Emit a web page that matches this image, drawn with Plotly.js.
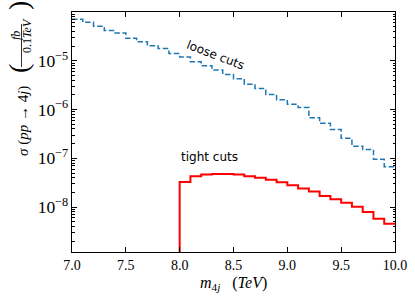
<!DOCTYPE html>
<html>
<head>
<meta charset="utf-8">
<script src="https://cdn.plot.ly/plotly-3.0.1.min.js"></script>
<style>html,body{margin:0;padding:0;background:#fff;}#chart{width:415px;height:297px;}</style>
</head>
<body>
<div id="chart"></div>
<script>
// Bin edges (TeV), 0.1 TeV bins
const looseEdges = [7.0,7.1,7.2,7.3,7.4,7.5,7.6,7.7,7.8,7.9,8.0,8.1,8.2,8.3,8.4,8.5,8.6,8.7,8.8,8.9,9.0,9.1,9.2,9.3,9.4,9.5,9.6,9.7,9.8,9.9,10.0];
// loose cuts cross-section per bin (fb / 0.1 TeV)
const looseValues = [7.08e-5,6.17e-5,5.13e-5,4.17e-5,3.72e-5,2.88e-5,2.45e-5,2.04e-5,1.78e-5,1.41e-5,
  1.20e-5,9.55e-6,7.94e-6,6.46e-6,5.25e-6,4.27e-6,3.31e-6,2.69e-6,2.04e-6,1.58e-6,
  1.29e-6,1.10e-6,6.76e-7,5.25e-7,3.89e-7,2.57e-7,1.78e-7,1.51e-7,9.55e-8,6.76e-8];
const tightEdges = [8.0,8.1,8.2,8.3,8.4,8.5,8.6,8.7,8.8,8.9,9.0,9.1,9.2,9.3,9.4,9.5,9.6,9.7,9.8,9.9,10.0];
// tight cuts cross-section per bin (fb / 0.1 TeV); zero below 8 TeV
const tightValues = [3.27e-8,4.27e-8,4.68e-8,4.79e-8,4.79e-8,4.68e-8,4.27e-8,3.98e-8,3.63e-8,3.24e-8,
  2.82e-8,2.40e-8,2.09e-8,1.70e-8,1.45e-8,1.23e-8,1.02e-8,7.94e-9,5.75e-9,4.57e-9];
const tightBaseline = 1e-12; // histogram zero level (off the log scale)
const xTickVals = [7.0,7.5,8.0,8.5,9.0,9.5,10.0];
const xTickText = ["7.0","7.5","8.0","8.5","9.0","9.5","10.0"];

function stepTrace(edges, values, baseline){
  const x = edges.slice();
  const y = values.concat([values[values.length-1]]);
  if (baseline !== undefined){ x.unshift(edges[0]); y.unshift(baseline); }
  return {x:x, y:y};
}
const loose = stepTrace(looseEdges, looseValues);
const tight = stepTrace(tightEdges, tightValues, tightBaseline);

const serif = "Liberation Serif";
const traces = [
  {x:loose.x, y:loose.y, type:'scatter', mode:'lines', line:{shape:'hv', color:'#1f77b4', width:1.5, dash:'5.5px,2.5px'}, hoverinfo:'skip'},
  {x:tight.x, y:tight.y, type:'scatter', mode:'lines', line:{shape:'hv', color:'#ff0000', width:2}, hoverinfo:'skip'}
];
const axisCommon = {showline:true, linecolor:'#000', linewidth:1, mirror:'ticks', ticks:'inside', ticklen:5, tickwidth:1, tickcolor:'#000', showgrid:false, zeroline:false, tickfont:{family:serif, size:14, color:'#000'}};
const layout = {
  width:415, height:297,
  margin:{l:72, r:20, t:12, b:45},
  paper_bgcolor:'#fff', plot_bgcolor:'#fff',
  showlegend:false,
  xaxis:Object.assign({}, axisCommon, {range:[7,10], tickmode:'array', tickvals:xTickVals, ticktext:xTickText}),
  yaxis:Object.assign({}, axisCommon, {type:'log', range:[-8.92,-4], dtick:1, exponentformat:'power',
    minor:{ticks:'inside', ticklen:2.5, tickcolor:'#000', dtick:'D1', showgrid:false}}),
  annotations:[
    {text:'loose cuts', xref:'x', yref:'y', x:8.33, y:-4.89, showarrow:false, textangle:21, font:{family:'DejaVu Sans', size:12, color:'#000'}},
    {text:'tight cuts', xref:'x', yref:'y', x:8.28, y:-6.97, showarrow:false, font:{family:'DejaVu Sans', size:12, color:'#000'}},
    {text:'<i>m</i><sub>4<i>j</i></sub>   (<i>TeV</i>)', xref:'paper', yref:'paper', x:0.5, y:(252-283)/240, xanchor:'center', yanchor:'middle', showarrow:false, font:{family:serif, size:16, color:'#000'}},
    {text:'<i>σ</i> (<i>pp</i> → 4<i>j</i>)', xref:'paper', yref:'paper', x:(23-72)/323, y:(252-121)/240, xanchor:'center', yanchor:'middle', textangle:-90, showarrow:false, font:{family:serif, size:15, color:'#000'}},
    {text:'<i>fb</i>', xref:'paper', yref:'paper', x:(16-72)/323, y:(252-36)/240, xanchor:'center', yanchor:'middle', textangle:-90, showarrow:false, font:{family:serif, size:12, color:'#000'}},
    {text:'0.1<i>TeV</i>', xref:'paper', yref:'paper', x:(27-72)/323, y:(252-36)/240, xanchor:'center', yanchor:'middle', textangle:-90, showarrow:false, font:{family:serif, size:12, color:'#000'}},
    {text:'(', xref:'paper', yref:'paper', x:(18-72)/323, y:(252-69)/240, xanchor:'center', yanchor:'middle', textangle:-90, showarrow:false, font:{family:serif, size:28, color:'#000'}},
    {text:')', xref:'paper', yref:'paper', x:(18-72)/323, y:(252-6)/240, xanchor:'center', yanchor:'middle', textangle:-90, showarrow:false, font:{family:serif, size:28, color:'#000'}}
  ],
  shapes:[
    {type:'line', xref:'paper', yref:'paper', x0:(21.5-72)/323, x1:(21.5-72)/323, y0:(252-67)/240, y1:(252-24)/240, line:{color:'#000', width:0.8}}
  ]
};
Plotly.newPlot('chart', traces, layout, {staticPlot:true, displayModeBar:false});
</script>
</body>
</html>
